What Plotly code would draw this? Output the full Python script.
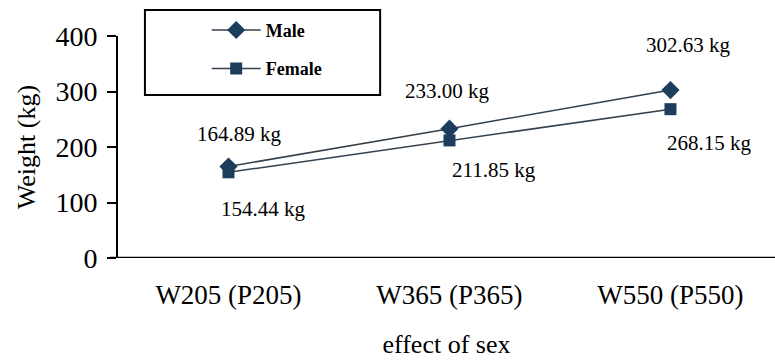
import plotly.graph_objects as go

# Weaning / yearling / final weights by sex
categories = ["W205 (P205)", "W365 (P365)", "W550 (P550)"]
male_weight = [164.89, 233.00, 302.63]
female_weight = [154.44, 211.85, 268.15]
y_ticks = [0, 100, 200, 300, 400]

line_col = "#34404c"
mark_col = "#1d3d5c"
font_family = "Liberation Serif, Times New Roman, serif"

x_idx = list(range(len(categories)))

fig = go.Figure()
fig.add_trace(go.Scatter(
    x=x_idx, y=male_weight, name="Male", mode="lines+markers",
    line=dict(color=line_col, width=1.5),
    marker=dict(symbol="diamond", size=14, color=mark_col),
    legendgroup="m",
))
fig.add_trace(go.Scatter(
    x=x_idx, y=female_weight, name="Female", mode="lines+markers",
    line=dict(color=line_col, width=1.5),
    marker=dict(symbol="square", size=12, color=mark_col),
    legendgroup="f",
))

# value labels: male above, female below/right
male_offsets = [(11, 32), (-2, 38), (18, 45)]
female_offsets = [(35, -37), (45, -30), (39, -34)]
label_font = dict(family=font_family, size=21, color="black")
for i, v in enumerate(male_weight):
    dx, dy = male_offsets[i]
    fig.add_annotation(x=i, y=v, text=f"{v:.2f} kg", showarrow=False,
                       xshift=dx, yshift=dy, font=label_font)
for i, v in enumerate(female_weight):
    dx, dy = female_offsets[i]
    fig.add_annotation(x=i, y=v, text=f"{v:.2f} kg", showarrow=False,
                       xshift=dx, yshift=dy, font=label_font)

# legend frame
fig.add_shape(type="rect", xref="paper", yref="paper",
              x0=0.041, x1=0.399, y0=0.734, y1=1.117,
              line=dict(color="black", width=2), fillcolor="white", layer="above")

fig.update_layout(
    width=775, height=361,
    margin=dict(l=118, r=0, t=36, b=103),
    paper_bgcolor="white", plot_bgcolor="white",
    font=dict(family=font_family, color="black"),
    showlegend=True,
    legend=dict(x=0.135, y=1.109, xanchor="left", yanchor="top",
                bgcolor="rgba(0,0,0,0)", borderwidth=0,
                font=dict(family=font_family, size=18, color="black", weight="bold"),
                tracegroupgap=12, itemwidth=49),
    xaxis=dict(
        tickmode="array", tickvals=x_idx, ticktext=categories,
        range=[-0.5, 2.473], showgrid=False, zeroline=False,
        showline=False, ticks="", ticklabelstandoff=18,
        tickfont=dict(family=font_family, size=27),
        title=dict(text="effect of sex", standoff=25,
                   font=dict(family=font_family, size=26)),
    ),
    yaxis=dict(
        range=[0, 400], tickvals=y_ticks, showgrid=False, zeroline=False,
        showline=True, linecolor="black", linewidth=2,
        ticks="outside", ticklen=9, tickwidth=2, tickcolor="black",
        ticklabelstandoff=4,
        tickfont=dict(family=font_family, size=28),
        title=dict(text="Weight (kg)", standoff=12,
                   font=dict(family=font_family, size=26)),
    ),
)

# x axis baseline extending slightly left of the y axis
fig.add_shape(type="line", xref="paper", yref="y",
              x0=-0.012, x1=1.0, y0=0, y1=0,
              line=dict(color="black", width=2.5))

fig.write_html("out.html")
